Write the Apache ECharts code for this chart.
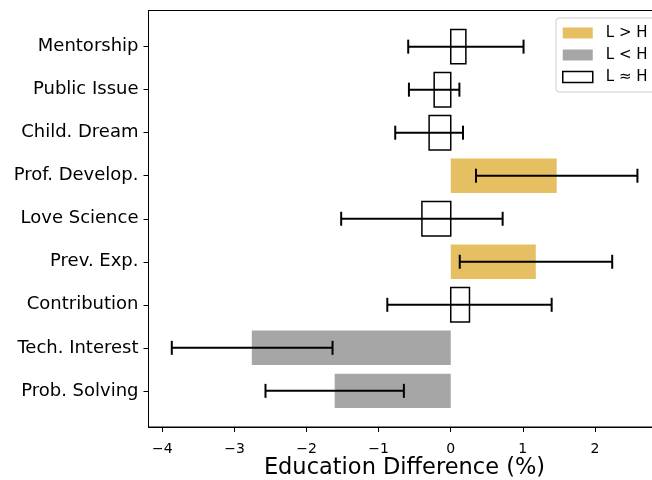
<!DOCTYPE html>
<html>
<head>
<meta charset="utf-8">
<script src="https://cdn.jsdelivr.net/npm/echarts@6/dist/echarts.min.js"></script>
<style>html,body{margin:0;padding:0;background:#fff;}#c{width:652px;height:480px;}</style>
</head>
<body>
<div id="c"></div>
<script>
const categories = ['Mentorship','Public Issue','Child. Dream','Prof. Develop.','Love Science','Prev. Exp.','Contribution','Tech. Interest','Prob. Solving'];
const values = [0.21, -0.23, -0.30, 1.47, -0.40, 1.18, 0.26, -2.76, -1.61];
const errLow = [-0.59, -0.58, -0.77, 0.35, -1.52, 0.125, -0.88, -3.87, -2.57];
const errHigh = [1.01, 0.12, 0.17, 2.59, 0.72, 2.24, 1.40, -1.64, -0.65];
const groups = ['L ≈ H','L ≈ H','L ≈ H','L > H','L ≈ H','L > H','L ≈ H','L < H','L < H'];
const groupNames = ['L > H','L < H','L ≈ H'];
const xTicks = [-4,-3,-2,-1,0,1,2];

const GOLD = '#e6bf62', GRAY = '#a6a6a6';
const styles = {
  'L > H': {fill: GOLD, stroke: null},
  'L < H': {fill: GRAY, stroke: null},
  'L ≈ H': {fill: '#ffffff', stroke: '#000000'}
};

function barRender(name) {
  return function (params, api) {
    const v = api.value(0), idx = api.value(1);
    const p0 = api.coord([0, idx]);
    const p1 = api.coord([v, idx]);
    const h = api.size([0, 0.8])[1];
    const x = Math.min(p0[0], p1[0]);
    const w = Math.abs(p1[0] - p0[0]);
    const st = styles[name];
    return {
      type: 'rect',
      shape: {x: x, y: p0[1] - h / 2, width: w, height: h},
      style: st.stroke ? {fill: st.fill, stroke: st.stroke, lineWidth: 1.5} : {fill: st.fill}
    };
  };
}

const barSeries = groupNames.map(function (g) {
  const data = [];
  categories.forEach(function (c, i) { if (groups[i] === g) data.push([values[i], i]); });
  const st = styles[g];
  return {
    name: g,
    type: 'custom',
    renderItem: barRender(g),
    encode: {x: 0, y: 1},
    itemStyle: {color: st.fill},
    data: data,
    z: 2
  };
});

const errData = categories.map(function (c, i) { return [errLow[i], errHigh[i], i]; });
const errSeries = {
  name: 'err',
  type: 'custom',
  encode: {x: [0, 1], y: 2},
  z: 5,
  data: errData,
  renderItem: function (params, api) {
    const lo = api.coord([api.value(0), api.value(2)]);
    const hi = api.coord([api.value(1), api.value(2)]);
    const cap = 7;
    const st = {stroke: '#000', lineWidth: 2, fill: null};
    return {
      type: 'group',
      children: [
        {type: 'line', shape: {x1: lo[0], y1: lo[1], x2: hi[0], y2: hi[1]}, style: st},
        {type: 'line', shape: {x1: lo[0], y1: lo[1] - cap, x2: lo[0], y2: lo[1] + cap}, style: st},
        {type: 'line', shape: {x1: hi[0], y1: hi[1] - cap, x2: hi[0], y2: hi[1] + cap}, style: st}
      ]
    };
  }
};

const chart = echarts.init(document.getElementById('c'), null, {renderer: 'canvas'});
chart.setOption({
  animation: false,
  backgroundColor: '#fff',
  textStyle: {fontFamily: 'DejaVu Sans'},
  grid: {left: 148.5, top: 10.5, width: 512, height: 416.5, show: true, borderColor: '#000', borderWidth: 1, backgroundColor: 'transparent', outerBoundsMode: 'none', containLabel: false},
  legend: {
    orient: 'vertical',
    left: 556, top: 18,
    padding: [7.5, 60, 7.5, 6],
    itemWidth: 30, itemHeight: 11, itemGap: 7,
    borderColor: '#cccccc', borderWidth: 1, borderRadius: 3,
    backgroundColor: 'rgba(255,255,255,0.8)',
    textStyle: {fontFamily: 'DejaVu Sans', fontSize: 15, color: '#000', lineHeight: 15, padding: [0, 0, 0, 8]},
    data: [
      {name: 'L > H', icon: 'rect', itemStyle: {color: GOLD}},
      {name: 'L < H', icon: 'rect', itemStyle: {color: GRAY}},
      {name: 'L ≈ H', icon: 'rect', itemStyle: {color: '#fff', borderColor: '#000', borderWidth: 1.5}}
    ],
    selectedMode: false
  },
  xAxis: {
    type: 'value',
    min: -4.193, max: 2.91,
    name: 'Education Difference (%)',
    nameLocation: 'middle',
    nameGap: 30,
    nameMoveOverlap: false,
    nameTextStyle: {fontFamily: 'DejaVu Sans', fontSize: 22.5, color: '#000'},
    axisLine: {show: true, onZero: false, lineStyle: {color: '#000', width: 1}},
    axisTick: {show: true, length: 5, customValues: xTicks, lineStyle: {color: '#000'}},
    axisLabel: {
      customValues: xTicks, margin: 10,
      padding: [5, 0, 0, 0],
      fontFamily: 'DejaVu Sans', fontSize: 14, color: '#000',
      formatter: function (v) { return v < 0 ? '\u2212' + Math.abs(v) : String(v); }
    },
    splitLine: {show: false}
  },
  yAxis: {
    type: 'value',
    inverse: true,
    min: -0.84, max: 8.84,
    axisLine: {show: true, onZero: false, lineStyle: {color: '#000', width: 1}},
    axisTick: {show: true, length: 5, customValues: categories.map(function (c, i) { return i; }), lineStyle: {color: '#000'}},
    axisLabel: {
      customValues: categories.map(function (c, i) { return i; }),
      margin: 10,
      fontFamily: 'DejaVu Sans', fontSize: 18, color: '#000',
      formatter: function (v) { return categories[Math.round(v)] || ''; }
    },
    splitLine: {show: false}
  },
  series: barSeries.concat([errSeries])
});
</script>
</body>
</html>
